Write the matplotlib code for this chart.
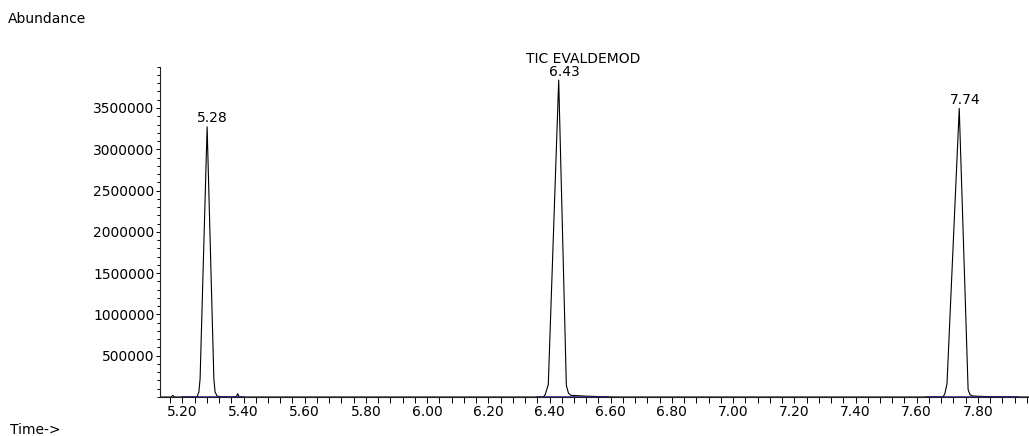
import matplotlib
matplotlib.use("Agg")
import matplotlib.pyplot as plt
from matplotlib.ticker import MultipleLocator, FixedLocator

# TIC trace (time in min, abundance in counts)
time = [5.127, 5.164, 5.169, 5.174, 5.248, 5.254, 5.258, 5.281, 5.303, 5.307,
        5.314, 5.330, 5.376, 5.381, 5.386,
        6.380, 6.386, 6.396, 6.430, 6.455, 6.462, 6.470, 6.520, 6.580, 6.620,
        7.686, 7.692, 7.699, 7.739, 7.768, 7.774, 7.782, 7.820, 7.880, 7.967]
abundance = [0, 0, 20000, 0, 0, 60000, 220000, 3272000, 220000, 60000,
             10000, 0, 0, 40000, 0,
             0, 30000, 150000, 3838000, 140000, 45000, 20000, 10000, 3000, 0,
             0, 40000, 160000, 3495000, 90000, 30000, 12000, 6000, 2000, 0]

# labelled peaks
peak_rt = [5.281, 6.430, 7.739]
peak_height = [3272000, 3838000, 3495000]
peak_label = ["5.28", "6.43", "7.74"]

# integration baselines (blue)
base_start = [5.20, 6.36, 7.63]
base_end = [5.40, 6.59, 7.93]

y_major = [500000, 1000000, 1500000, 2000000, 2500000, 3000000, 3500000]

plt.rcParams['font.family'] = ['DejaVu Sans']

fig = plt.figure(figsize=(10.29, 4.36), dpi=100)
ax = fig.add_axes([160 / 1029, 39 / 436, 869 / 1029, 330.3 / 436])

ax.plot(time, abundance, color='black', linewidth=0.8)
for s, e in zip(base_start, base_end):
    ax.plot([s, e], [0, 0], color='#1c1c8f', linewidth=1.1)

for rt, h, lab in zip(peak_rt, peak_height, peak_label):
    ax.annotate(lab, (rt, h), xytext=(4, 1), textcoords='offset points',
                ha='center', va='bottom', fontsize=10)

ax.set_xlim(5.127, 7.967)
ax.set_ylim(0, 4000000)

ax.xaxis.set_major_locator(MultipleLocator(0.2))
ax.xaxis.set_minor_locator(MultipleLocator(0.04))
ax.yaxis.set_major_locator(FixedLocator(y_major))
ax.yaxis.set_minor_locator(MultipleLocator(100000))
ax.xaxis.set_major_formatter(matplotlib.ticker.FormatStrFormatter('%.2f'))
ax.yaxis.set_major_formatter(matplotlib.ticker.FormatStrFormatter('%d'))

ax.tick_params(axis='x', which='both', direction='out', length=4, width=0.7,
               labelsize=10, pad=2)
ax.tick_params(axis='y', which='major', direction='out', length=3, width=0.7,
               labelsize=10, pad=1)
ax.tick_params(axis='y', which='minor', direction='out', length=2, width=0.7)

for side in ['top', 'right']:
    ax.spines[side].set_visible(False)
for side in ['left', 'bottom']:
    ax.spines[side].set_linewidth(0.8)
    ax.spines[side].set_color('#222222')

fig.text(583 / 1029, 1 - 59 / 436, "TIC EVALDEMOD", ha='center', va='center',
         fontsize=10)
fig.text(8 / 1029, 1 - 19 / 436, "Abundance", ha='left', va='center',
         fontsize=10)
fig.text(10 / 1029, 1 - 430 / 436, "Time->", ha='left', va='center',
         fontsize=10)

fig.savefig('out.png', dpi=100)
